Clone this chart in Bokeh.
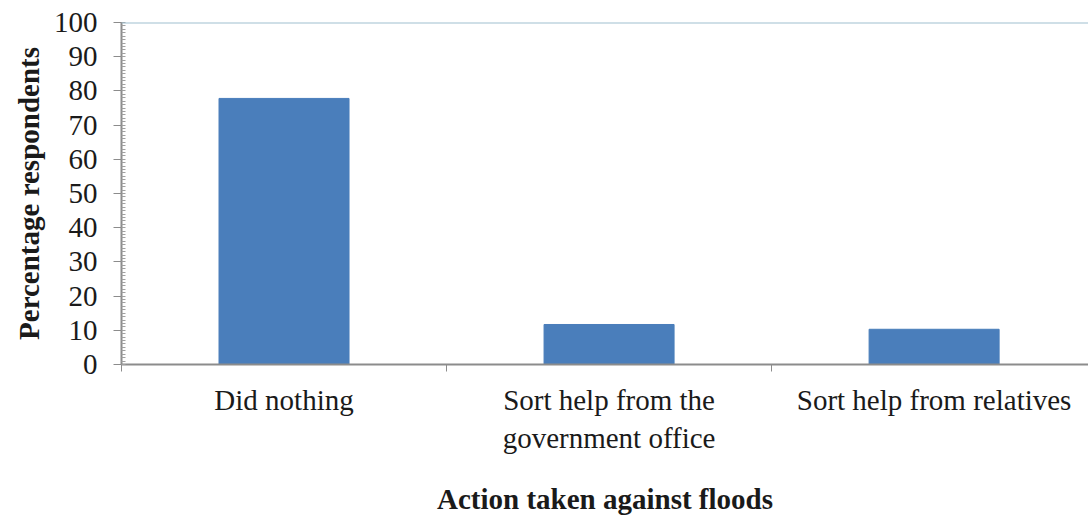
from bokeh.plotting import figure
from bokeh.models import Range1d, FixedTicker, Span
from bokeh.embed import file_html
from bokeh.resources import INLINE
import numpy as np

# Survey responses: action taken against floods
categories = ["Did nothing", "Sort help from the\ngovernment office", "Sort help from relatives"]
percent = [77.8, 11.7, 10.3]
y_ticks = [0, 10, 20, 30, 40, 50, 60, 70, 80, 90, 100]

n = len(categories)
centers = np.arange(n) + 0.5

p = figure(width=1088, height=517, output_backend="svg", toolbar_location=None,
           x_range=Range1d(0, 2.975), y_range=Range1d(0, 100),
           min_border_left=121, min_border_right=0, min_border_top=22,
           min_border_bottom=153)
p.outline_line_color = None
p.background_fill_color = "white"
p.border_fill_color = "white"
p.xgrid.visible = False
p.ygrid.visible = False

p.vbar(x=centers, top=percent, width=0.4, fill_color="#4A7EBB", line_color="#4A7EBB")

# top boundary line at 100 %
p.add_layout(Span(location=100, dimension="width", line_color="#9FBFCF", line_width=2))

serif = "Liberation Serif"

# x axis: labels at category centres, separator ticks between categories
xa = p.xaxis[0]
xa.ticker = FixedTicker(ticks=list(centers), minor_ticks=list(range(n + 1)))
xa.major_label_overrides = {float(c): lab for c, lab in zip(centers, categories)}
xa.major_tick_out = 0
xa.major_tick_in = 0
xa.minor_tick_out = 7
xa.minor_tick_in = 0
xa.minor_tick_line_color = "#8C8C8C"
xa.axis_line_color = "#8C8C8C"
xa.axis_line_width = 2
xa.major_label_text_font = serif
xa.major_label_text_font_size = "29px"
xa.major_label_text_color = "#1A1A1A"
xa.major_label_standoff = 12
xa.axis_label = "Action taken against floods"
xa.axis_label_text_font = serif
xa.axis_label_text_font_style = "bold"
xa.axis_label_text_font_size = "29px"
xa.axis_label_text_color = "#1A1A1A"
xa.axis_label_standoff = 26

# y axis
ya = p.yaxis[0]
ya.ticker = FixedTicker(ticks=y_ticks, minor_ticks=list(range(0, 101)))
ya.axis_line_color = "#8C8C8C"
ya.axis_line_width = 2
ya.major_tick_line_color = "#8C8C8C"
ya.minor_tick_line_color = "#A0A0A0"
ya.major_tick_out = 8
ya.major_tick_in = 3
ya.minor_tick_out = 0
ya.minor_tick_in = 4
ya.major_label_text_font = serif
ya.major_label_text_font_size = "29px"
ya.major_label_text_color = "#1A1A1A"
ya.major_label_standoff = 16
ya.axis_label = "Percentage respondents"
ya.axis_label_text_font = serif
ya.axis_label_text_font_style = "bold"
ya.axis_label_text_font_size = "29px"
ya.axis_label_text_color = "#1A1A1A"
ya.axis_label_standoff = 6

open("out.html", "w").write(file_html(p, INLINE))
